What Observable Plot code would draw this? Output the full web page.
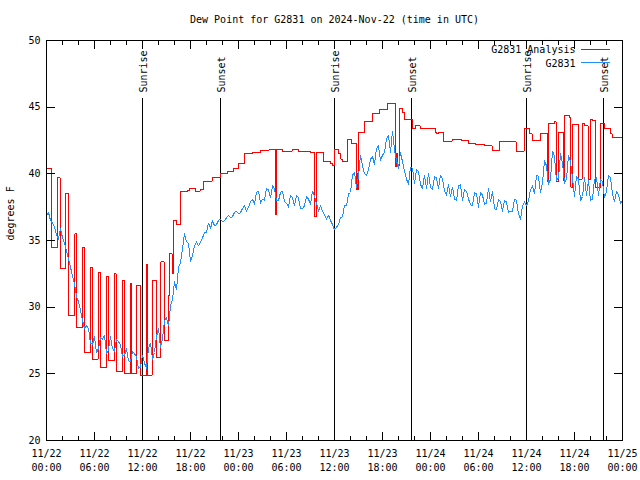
<!DOCTYPE html>
<html><head><meta charset="utf-8">
<script src="https://cdn.jsdelivr.net/npm/d3@7"></script>
<script src="https://cdn.jsdelivr.net/npm/@observablehq/plot@0.6"></script>
<style>body{margin:0;background:#fff} #chart svg{display:block}</style>
</head><body><div id="chart"></div>
<script>
// ---------- data ----------
const startUTC = Date.UTC(2024, 10, 22, 0, 0);
const titleText = "Dew Point for G2831 on 2024-Nov-22 (time in UTC)";
const yLabelText = "degrees F";
const seriesNames = ["G2831 Analysis", "G2831"];
const seriesColors = ["#ff0000", "#1f8fff"];
const yTicks = [20, 25, 30, 35, 40, 45, 50];

// observed dew point (G2831), one value every 15 minutes from 11/22 00:00 UTC
const obsStepMinutes = 15;
const obsValues = [
  36.9, 37.1, 36.5, 36.3,  36.0, 35.4, 35.1, 35.9,  35.2, 34.8, 34.2, 33.6,  33.0, 32.3, 31.8, 30.8,
  30.4, 29.8, 29.0, 28.4,  28.6, 28.4, 27.3, 27.2,  27.8, 26.6, 26.9, 27.7,  27.6, 27.9, 26.5, 26.8,
  27.8, 26.9, 26.7, 27.6,  27.4, 27.2, 26.3, 26.4,  26.9, 26.0, 25.9, 26.7,  26.5, 26.3, 25.4, 25.5,
  26.4, 25.8, 25.4, 26.9,  27.3, 26.1, 26.6, 27.8,  28.4, 27.0, 27.6, 29.0,  29.2, 28.6, 30.1, 30.6,
  31.9, 31.3, 33.0, 33.3,  34.4, 35.5, 34.9, 34.8,  33.4, 33.9, 34.6, 34.9,  34.6, 34.9, 35.2, 35.6,
  35.6, 36.3, 35.9, 36.5,  36.1, 36.2, 36.5, 36.6,  36.4, 36.5, 36.7, 36.9,  36.7, 36.8, 37.1, 37.2,
  37.0, 37.1, 37.4, 37.6,  37.2, 37.5, 37.9, 38.1,  37.7, 38.6, 38.7, 37.8,  38.1, 38.0, 38.9, 38.8,
  38.2, 39.1, 38.9, 38.0,  38.0, 38.6, 38.7, 37.9,  37.8, 37.5, 38.4, 38.2,  37.6, 38.4, 38.2, 37.4,
  37.4, 37.6, 38.3, 38.1,  37.7, 38.7, 38.3, 37.8,  37.2, 37.6, 37.2, 36.9,  36.6, 36.9, 36.5, 36.2,
  35.8, 36.0, 36.2, 36.7,  36.8, 37.6, 37.6, 38.5,  38.6, 39.9, 40.1, 39.0,  39.8, 41.4, 40.6, 40.0,
  39.9, 40.3, 41.1, 41.3,  40.7, 41.9, 42.1, 41.0,  41.4, 41.6, 42.6, 42.9,  41.6, 43.2, 41.8, 41.0,
  40.4, 41.6, 40.9, 40.2,  39.6, 39.2, 40.5, 40.4,  39.3, 40.3, 40.2, 39.2,  38.9, 39.9, 38.9, 40.0,
  39.0, 38.8, 39.8, 39.7,  38.9, 39.9, 39.6, 38.7,  38.4, 39.2, 38.3, 39.0,  38.1, 38.0, 39.1, 39.2,
  38.0, 38.8, 38.7, 38.1,  37.7, 37.6, 38.6, 38.5,  37.5, 38.6, 38.4, 37.7,  37.8, 38.9, 37.9, 38.7,
  37.4, 37.3, 38.1, 37.9,  37.2, 38.0, 37.9, 37.1,  37.2, 37.2, 38.1, 38.0,  37.0, 36.6, 37.6, 37.9,
  37.6, 38.0, 38.8, 39.1,  38.5, 39.9, 39.8, 38.6,  39.3, 41.0, 40.6, 39.2,  39.6, 41.7, 41.3, 39.5,
  39.7, 41.5, 40.8, 39.3,  39.6, 41.4, 40.9, 39.7,  38.3, 39.8, 39.6, 38.0,  38.3, 39.7, 38.4, 39.5,
  38.0, 38.1, 39.6, 39.7,  38.4, 39.6, 39.4, 38.2,  38.7, 39.9, 39.7, 38.5,  37.9, 38.7, 38.4, 37.8,
  38.0
];

// analysis dew point (G2831 Analysis): hours after 11/22 00:00 UTC and value held until next
const anaHours = [
  0, 0.67, 1.33, 1.7, 2.4, 2.72, 3.55, 3.75, 4.5, 4.7, 5.5, 5.7, 6.45, 6.7, 7.55, 7.75,
  8.5, 8.7, 9.55, 9.7, 10.5, 10.65, 11.2, 11.75, 12.55, 12.65, 13.2, 13.75, 14.3, 14.7,
  15.3, 15.42, 15.7, 15.9, 16.3, 16.7, 17.6, 17.9, 18.6, 19.2, 19.67, 20.7, 21.75, 22.6,
  23.4, 24.0, 24.75, 25.7, 26.75, 27.8, 28.6, 28.72, 29.5, 30.7, 31.5, 33.0, 33.55, 33.7,
  34.6, 35.5, 35.8, 36.0, 36.5, 36.8, 37.0, 37.6, 38.1, 38.7, 38.8, 38.85, 38.95, 39.7,
  40.75, 41.6, 42.6, 43.6, 43.75, 43.85, 44.1, 44.5, 44.7, 45.7, 46.1, 46.7, 48.6, 48.8,
  49.0, 49.6, 50.7, 51.9, 52.7, 53.6, 54.8, 55.7, 56.6, 58.7, 59.7, 60.4, 60.7, 61.75,
  62.6, 62.75, 63.5, 63.7, 64.0, 64.6, 64.8, 65.4, 65.55, 65.8, 66.5, 66.95, 67.3, 67.7,
  68.0, 68.3, 68.6, 69.25, 69.75, 70.5, 70.7, 72.0
];
const anaValues = [
  40.4, 34.5, 39.7, 32.9, 38.5, 29.4, 35.5, 28.5, 34.5, 26.6, 33.0, 26.1, 32.6, 25.5, 32.3, 26.0,
  32.5, 25.2, 32.0, 25.0, 31.8, 25.0, 31.6, 24.9, 33.2, 24.9, 32.0, 26.2, 33.4, 27.5,
  30.9, 34.0, 32.5, 36.5, 36.2, 38.7, 38.75, 38.9, 38.7, 38.8, 39.45, 39.7, 40.05, 40.2,
  40.4, 40.75, 41.5, 41.6, 41.75, 41.8, 36.95, 41.8, 41.7, 41.8, 41.7, 41.6, 36.8, 41.6,
  40.95, 40.8, 40.6, 41.8, 41.5, 41.1, 40.95, 42.55, 42.3, 38.8, 40.0, 38.8, 43.1, 43.9,
  44.55, 44.8, 45.3, 40.55, 41.5, 40.6, 44.9, 44.6, 44.1, 43.4, 43.6, 43.4, 43.1, 43.0,
  43.1, 42.45, 42.55, 42.5, 42.3, 42.2, 42.1, 41.75, 42.4, 41.7, 43.4, 43.0, 42.5, 43.0,
  39.4, 43.75, 43.9, 39.4, 43.1, 39.5, 44.4, 44.2, 39.0, 43.7, 39.6, 43.8, 43.6, 39.6,
  44.1, 44.0, 38.95, 43.75, 43.4, 43.0, 42.7, 42.7
];

// sunrise / sunset markers (hours after 11/22 00:00 UTC)
const eventHours = [12.0, 21.75, 36.0, 45.6, 60.0, 69.6];
const eventLabels = ["Sunrise", "Sunset", "Sunrise", "Sunset", "Sunrise", "Sunset"];

// ---------- build ----------
const HOUR = 3600e3;
const obs = obsValues.map((v, i) => ({t: new Date(startUTC + i * obsStepMinutes * 60e3), v}));
const ana = anaHours.map((h, i) => ({t: new Date(startUTC + h * HOUR), v: anaValues[i]}));
const events = eventHours.map((h, i) => ({t: new Date(startUTC + h * HOUR), label: eventLabels[i]}));
const x0 = new Date(startUTC), x1 = new Date(startUTC + 72 * HOUR);
const majorTicks = d3.utcHour.every(6).range(x0, new Date(+x1 + 1));
const minorTicks = d3.utcHour.every(2).range(x0, new Date(+x1 + 1));
const fmtDay = d3.utcFormat("%m/%d"), fmtTime = d3.utcFormat("%H:%M");

const up = {draw(ctx, l) { ctx.moveTo(0, 0); ctx.lineTo(0, -l); }};
const tickOpts = {shape: up, anchor: "start", stroke: "black", strokeWidth: 1};

const plot = Plot.plot({
  width: 640, height: 480,
  marginLeft: 46, marginRight: 18, marginTop: 40, marginBottom: 40,
  style: {fontFamily: "'DejaVu Sans Mono', monospace", fontSize: "10px", background: "white", color: "black", shapeRendering: "crispEdges"},
  x: {type: "utc", domain: [x0, x1]},
  y: {domain: [20, 50]},
  marks: [
    Plot.ruleX(events, {x: "t", insetTop: 58, stroke: "black", strokeWidth: 1}),
    Plot.text(events, {x: "t", text: "label", frameAnchor: "top", lineAnchor: "middle", dy: 52, dx: 1.5, rotate: -90, textAnchor: "start", fill: "black"}),
    Plot.line(ana, {x: "t", y: "v", curve: "step-after", stroke: seriesColors[0], strokeWidth: 1}),
    Plot.line(obs, {x: "t", y: "v", stroke: seriesColors[1], strokeWidth: 1}),
    Plot.frame({stroke: "black", strokeWidth: 1}),
    // inward ticks
    Plot.vector(majorTicks, {x: d => d, frameAnchor: "bottom", length: 8, ...tickOpts}),
    Plot.vector(majorTicks, {x: d => d, frameAnchor: "top", length: 8, rotate: 180, ...tickOpts}),
    Plot.vector(minorTicks, {x: d => d, frameAnchor: "bottom", length: 4, ...tickOpts}),
    Plot.vector(minorTicks, {x: d => d, frameAnchor: "top", length: 4, rotate: 180, ...tickOpts}),
    Plot.vector(yTicks, {y: d => d, frameAnchor: "left", length: 8, rotate: 90, ...tickOpts}),
    Plot.vector(yTicks, {y: d => d, frameAnchor: "right", length: 8, rotate: -90, ...tickOpts}),
    Plot.axisX({ticks: majorTicks, tickSize: 0, tickPadding: 7, label: null, lineHeight: 1.4,
      tickFormat: d => fmtDay(d) + "\n" + fmtTime(d)}),
    Plot.axisY({ticks: yTicks, tickSize: 0, tickPadding: 6, label: null}),
    Plot.text([titleText], {frameAnchor: "top", lineAnchor: "middle", dy: -21, fill: "black"}),
    Plot.text([yLabelText], {frameAnchor: "left", lineAnchor: "middle", rotate: -90, dx: -36, fill: "black"}),
    Plot.text([seriesNames[0]], {frameAnchor: "top-right", lineAnchor: "middle", dx: -47, dy: 9, textAnchor: "end", fill: "black"}),
    Plot.text([seriesNames[1]], {frameAnchor: "top-right", lineAnchor: "middle", dx: -47, dy: 23, textAnchor: "end", fill: "black"})
  ]
});

// legend line samples
const svg = d3.select(plot);
const lx1 = 640 - 18 - 41, lx2 = 640 - 18 - 12;
[[49, seriesColors[0]], [62.5, seriesColors[1]]].forEach(([yy, c]) => {
  svg.append("line").attr("x1", lx1).attr("x2", lx2).attr("y1", yy).attr("y2", yy)
    .attr("stroke", c).attr("stroke-width", 1);
});
document.getElementById("chart").appendChild(plot);
</script>
</body></html>
